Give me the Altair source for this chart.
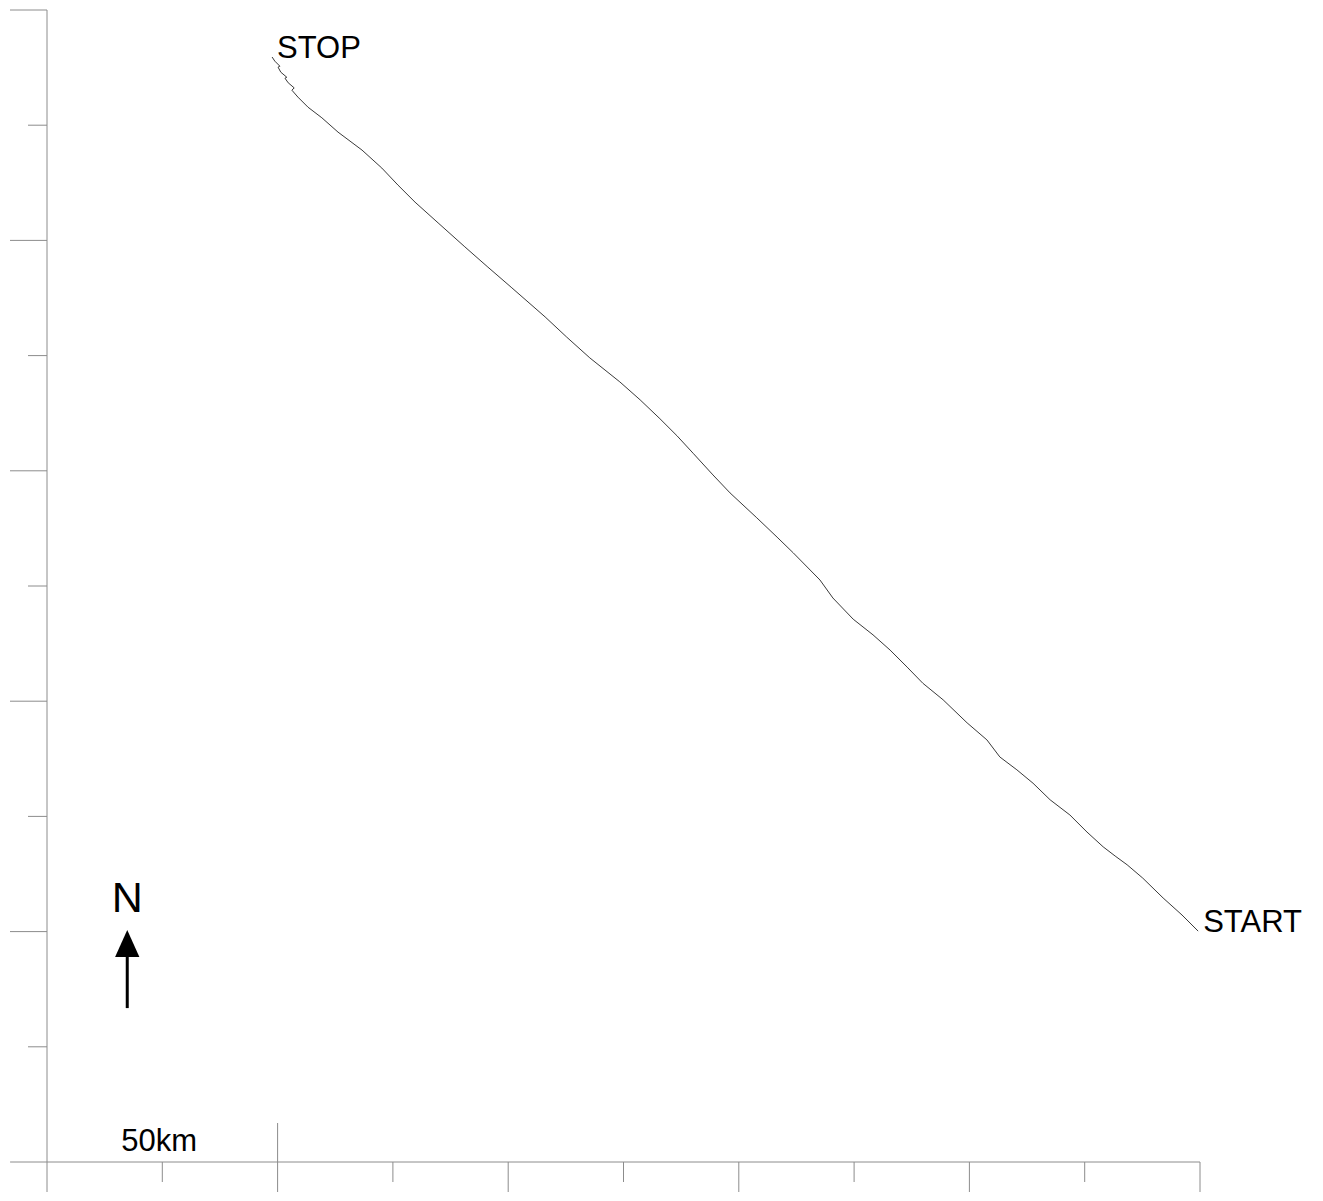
import altair as alt
import pandas as pd

# Track (km east, km north), from START to STOP
track_x = [249.6, 246.1, 242.0, 237.6, 234.2, 231.6, 229.0, 225.5, 221.8, 217.5,
           213.8, 210.3, 206.6, 203.8, 199.5, 194.3, 189.9, 186.5, 182.8, 179.1,
           174.8, 170.4, 167.6, 161.8, 158.3, 153.9, 148.1, 144.4, 140.1, 136.6,
           132.9, 128.6, 124.2, 117.7, 112.7, 108.0, 100.8, 95.6, 90.6, 84.8,
           79.8, 76.1, 72.6, 68.3, 63.1, 59.6, 56.6, 54.4, 53.1, 53.6,
           52.3, 51.6, 52.0, 50.7, 50.1, 50.5, 49.4, 48.8]
track_y = [50.1, 53.6, 57.3, 61.6, 64.5, 66.4, 68.4, 71.6, 75.3, 78.6,
           82.2, 85.1, 87.9, 91.6, 95.3, 100.3, 103.9, 107.4, 111.1, 114.4,
           117.8, 122.4, 126.3, 132.2, 135.6, 139.8, 145.2, 149.1, 153.8, 157.6,
           161.3, 165.4, 169.3, 174.5, 179.0, 183.4, 189.7, 194.2, 198.6, 203.8,
           208.3, 212.0, 215.7, 219.6, 223.5, 226.6, 228.9, 231.1, 232.6, 233.1,
           234.2, 235.2, 235.4, 236.5, 237.6, 237.8, 238.9, 239.8]

# Axis lines (km): horizontal base line and vertical line
xaxis_from = [-8.0]
xaxis_to = [250.0]
yaxis_from = [-8.7]
yaxis_to = [250.0]

# Axis ticks (km)
x_ticks_long = [50, 100, 150, 200, 250]
x_ticks_short = [25, 75, 125, 175, 225]
y_ticks_long = [50, 100, 150, 200, 250]
y_ticks_short = [25, 75, 125, 175, 225]
scale_bar_end = [50]

# Labels
label_text = ["STOP", "START"]
label_x = [48.8, 249.6]
label_y = [239.8, 50.1]

north_x = [17.4]
north_text_y = [54.3]
north_head_y = [47.4]
north_shaft_top = [44.5]
north_shaft_bottom = [33.4]

scale_label = ["50km"]
scale_label_x = [24.3]
scale_label_y = [0]

W, H = 1153, 1152
AX = "#8c8c8c"
FONT = "Liberation Sans"

xs = alt.Scale(domain=[0, 250], nice=False, zero=False)
ys = alt.Scale(domain=[0, 250], nice=False, zero=False)


def X(f):
    return alt.X(f, type="quantitative", scale=xs, axis=None)


def Y(f):
    return alt.Y(f, type="quantitative", scale=ys, axis=None)


track_df = pd.DataFrame({"x": track_x, "y": track_y, "i": range(len(track_x))})
track = alt.Chart(track_df).mark_line(color="#3a3a3a", strokeWidth=1.0).encode(
    x=X("x"), y=Y("y"), order="i:Q"
)

# axis lines
xaxis = alt.Chart(pd.DataFrame({"y": [0], "x": xaxis_from, "x2": xaxis_to})).mark_rule(
    color=AX, strokeWidth=1
).encode(x=X("x"), x2=alt.X2("x2"), y=Y("y"))
yaxis = alt.Chart(pd.DataFrame({"x": [0], "y": yaxis_to, "y2": yaxis_from})).mark_rule(
    color=AX, strokeWidth=1
).encode(x=X("x"), y=Y("y"), y2=alt.Y2("y2"))

ytl = alt.Chart(pd.DataFrame({"y": y_ticks_long})).mark_rule(color=AX).encode(
    y=Y("y"), x=alt.value(-37), x2=alt.value(0)
)
yts = alt.Chart(pd.DataFrame({"y": y_ticks_short})).mark_rule(color=AX).encode(
    y=Y("y"), x=alt.value(-19), x2=alt.value(0)
)
xtl = alt.Chart(pd.DataFrame({"x": x_ticks_long})).mark_rule(color=AX).encode(
    x=X("x"), y=alt.value(H), y2=alt.value(H + 40)
)
xts = alt.Chart(pd.DataFrame({"x": x_ticks_short})).mark_rule(color=AX).encode(
    x=X("x"), y=alt.value(H), y2=alt.value(H + 20)
)
sbar = alt.Chart(pd.DataFrame({"x": scale_bar_end})).mark_rule(color=AX).encode(
    x=X("x"), y=alt.value(H - 39), y2=alt.value(H)
)

labels = alt.Chart(pd.DataFrame({"t": label_text, "x": label_x, "y": label_y})).mark_text(
    align="left", baseline="alphabetic", dx=5, dy=1, font=FONT, fontSize=31, color="black"
).encode(x=X("x"), y=Y("y"), text="t:N")

sl = alt.Chart(pd.DataFrame({"t": scale_label, "x": scale_label_x, "y": scale_label_y})).mark_text(
    align="center", baseline="alphabetic", dy=-11, font=FONT, fontSize=31, color="black"
).encode(x=X("x"), y=Y("y"), text="t:N")

nt = alt.Chart(pd.DataFrame({"t": ["N"], "x": north_x, "y": north_text_y})).mark_text(
    align="center", baseline="alphabetic", font=FONT, fontSize=43, color="black"
).encode(x=X("x"), y=Y("y"), text="t:N")

nhead = alt.Chart(pd.DataFrame({"x": north_x, "y": north_head_y})).mark_point(
    shape="M0,-1L-0.9,1L0.9,1Z", filled=True, color="black", size=729, opacity=1, strokeWidth=0
).encode(x=X("x"), y=Y("y"))

nshaft = alt.Chart(pd.DataFrame({"x": north_x, "y": north_shaft_top, "y2": north_shaft_bottom})).mark_rule(
    color="black", strokeWidth=3
).encode(x=X("x"), y=Y("y"), y2=alt.Y2("y2"))

chart = alt.layer(
    xaxis, yaxis, ytl, yts, xtl, xts, sbar, track, labels, sl, nt, nhead, nshaft
).properties(
    width=W,
    height=H,
    autosize="none",
    padding={"left": 39, "top": 2, "right": 115, "bottom": 30},
    background="white",
).configure_view(stroke=None)

chart.save("out.html", embed_options={"renderer": "svg", "actions": False})
